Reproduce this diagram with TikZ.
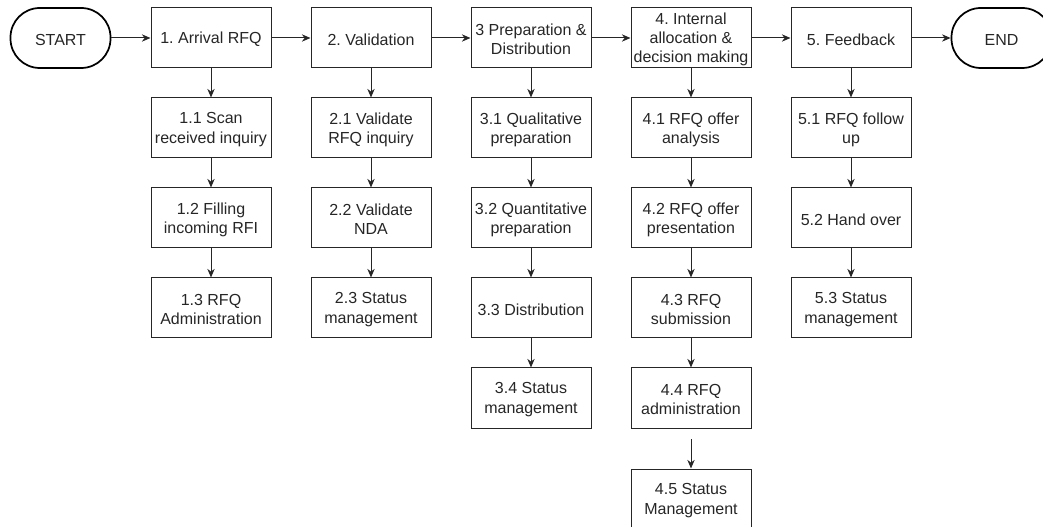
\documentclass[tikz,border=0pt]{standalone}
\usepackage{fontspec}
\setmainfont{Liberation Sans}
\frenchspacing
\usetikzlibrary{arrows.meta}
\begin{document}
\begin{tikzpicture}[x=0.75pt,y=-0.75pt,
  txt/.style={align=center,inner sep=0pt,font=\fontsize{12}{14.3}\selectfont,text=black!85,yshift=-1.2pt},
  box/.style={draw=black!85,line width=0.75pt,minimum width=90pt,minimum height=45pt,inner sep=0pt,label={[txt]center:#1}},
  term/.style={draw=black,line width=1.3pt,rounded corners=22pt,minimum width=75pt,minimum height=45pt,inner sep=0pt,label={[txt]center:#1}},
  arr/.style={-{Stealth[length=6.5pt,width=5.5pt]},line width=0.75pt,draw=black!85}]
\useasboundingbox (0,0) rectangle (1043,527);
% terminals
\node[term={START}] (start) at (60.5,38) {};
\node[term={END}] (end) at (1001.5,38) {};
% headers
\node[box={1. Arrival RFQ}] (h1) at (211,38) {};
\node[box={2. Validation}] (h2) at (371,38) {};
\node[box={3 Preparation \&\\Distribution}] (h3) at (531,38) {};
\node[box={4. Internal\\allocation \&\\decision making}] (h4) at (691,38) {};
\node[box={5. Feedback}] (h5) at (851,38) {};
% column 1
\node[box={1.1 Scan\\received inquiry}] (a1) at (211,128) {};
\node[box={1.2 Filling\\incoming RFI}] (a2) at (211,218) {};
\node[box={1.3 RFQ\\Administration}] (a3) at (211,308) {};
% column 2
\node[box={2.1 Validate\\RFQ inquiry}] (b1) at (371,128) {};
\node[box={2.2 Validate\\NDA}] (b2) at (371,218) {};
\node[box={2.3 Status\\management}] (b3) at (371,308) {};
% column 3
\node[box={3.1 Qualitative\\preparation}] (c1) at (531,128) {};
\node[box={3.2 Quantitative\\preparation}] (c2) at (531,218) {};
\node[box={3.3 Distribution}] (c3) at (531,308) {};
\node[box={3.4 Status\\management}] (c4) at (531,398) {};
% column 4
\node[box={4.1 RFQ offer\\analysis}] (d1) at (691,128) {};
\node[box={4.2 RFQ offer\\presentation}] (d2) at (691,218) {};
\node[box={4.3 RFQ\\submission}] (d3) at (691,308) {};
\node[box={4.4 RFQ\\administration}] (d4) at (691,398) {};
\node[box={4.5 Status\\Management}] (d5) at (691,499) {};
% column 5
\node[box={5.1 RFQ follow\\up}] (e1) at (851,128) {};
\node[box={5.2 Hand over}] (e2) at (851,218) {};
\node[box={5.3 Status\\management}] (e3) at (851,308) {};
% horizontal connectors
\draw[arr] (start) -- (h1);
\draw[arr] (h1) -- (h2);
\draw[arr] (h2) -- (h3);
\draw[arr] (h3) -- (h4);
\draw[arr] (h4) -- (h5);
\draw[arr] (h5) -- (end);
% vertical connectors
\draw[arr] (h1) -- (a1);
\draw[arr] (a1) -- (a2);
\draw[arr] (a2) -- (a3);
\draw[arr] (h2) -- (b1);
\draw[arr] (b1) -- (b2);
\draw[arr] (b2) -- (b3);
\draw[arr] (h3) -- (c1);
\draw[arr] (c1) -- (c2);
\draw[arr] (c2) -- (c3);
\draw[arr] (c3) -- (c4);
\draw[arr] (h4) -- (d1);
\draw[arr] (d1) -- (d2);
\draw[arr] (d2) -- (d3);
\draw[arr] (d3) -- (d4);
\draw[arr,shorten <=8pt] (d4) -- (d5);
\draw[arr] (h5) -- (e1);
\draw[arr] (e1) -- (e2);
\draw[arr] (e2) -- (e3);
\end{tikzpicture}
\end{document}
